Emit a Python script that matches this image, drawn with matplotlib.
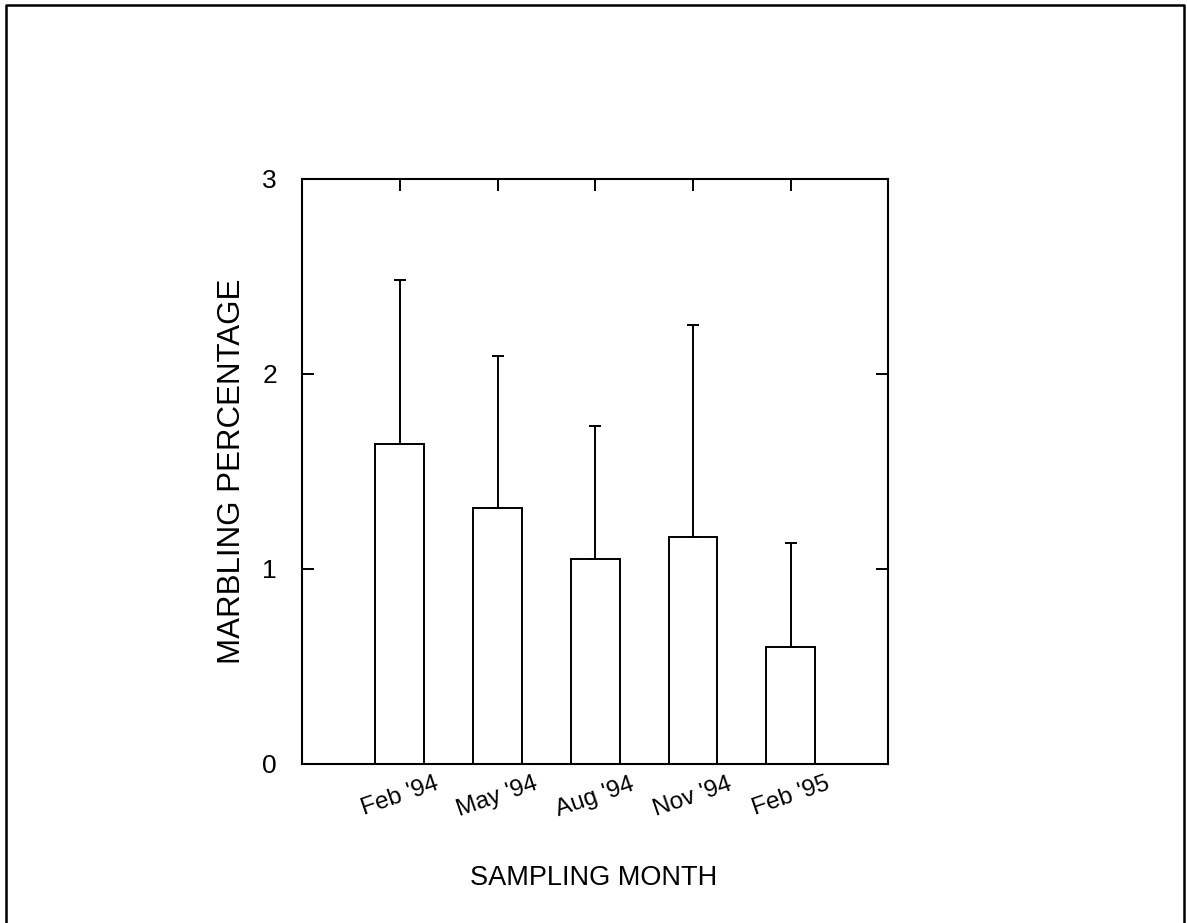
import matplotlib
matplotlib.use("Agg")
import matplotlib.pyplot as plt
from matplotlib.lines import Line2D
import numpy as np

# data
months = ["Feb '94", "May '94", "Aug '94", "Nov '94", "Feb '95"]
marbling_mean = [1.64, 1.31, 1.05, 1.16, 0.60]
marbling_err = [0.84, 0.78, 0.68, 1.09, 0.53]

plt.rcParams["font.family"] = ["Liberation Sans", "DejaVu Sans"]

fig = plt.figure(figsize=(11.87, 9.23), dpi=100)
ax = fig.add_axes([0.2545, 0.1728, 0.494, 0.6333])

x = np.arange(1, len(months) + 1)
ax.bar(x, marbling_mean, 0.5, color="white", edgecolor="black", linewidth=1.4, zorder=2)
ax.errorbar(x, marbling_mean, yerr=[np.zeros(len(x)), marbling_err], fmt="none",
            ecolor="black", elinewidth=1.4, capsize=4.3, capthick=1.4, zorder=3)

ax.set_xlim(0, 6)
ax.set_ylim(0, 3)
ax.set_yticks([0, 1, 2, 3])
ax.set_yticklabels(["0", "1", "2", "3"], fontsize=19)
ax.set_xticks(x)
ax.set_xticklabels(months, fontsize=17.5, rotation=19, ha="center")
ax.tick_params(axis="both", direction="in", length=8.6, width=1.4,
               top=True, right=True)
ax.tick_params(axis="y", pad=18)
ax.tick_params(axis="x", pad=7)
for s in ax.spines.values():
    s.set_linewidth(1.5)

fig.text(232 / 1187, 1 - 471 / 923, "MARBLING PERCENTAGE", rotation=90,
         ha="center", va="center", fontsize=22.5)
fig.text(594 / 1187, 1 - 878 / 923, "SAMPLING MONTH", ha="center", va="center",
         fontsize=19.5)

# outer frame of the scanned page (left, top, right)
fx0, fx1, fy = 6 / 1187, 1184 / 1187, 1 - 5 / 923
fig.add_artist(Line2D([fx0, fx0, fx1, fx1], [0, fy, fy, 0], color="black",
                      linewidth=1.8, transform=fig.transFigure))

fig.savefig("out.png", dpi=100)
